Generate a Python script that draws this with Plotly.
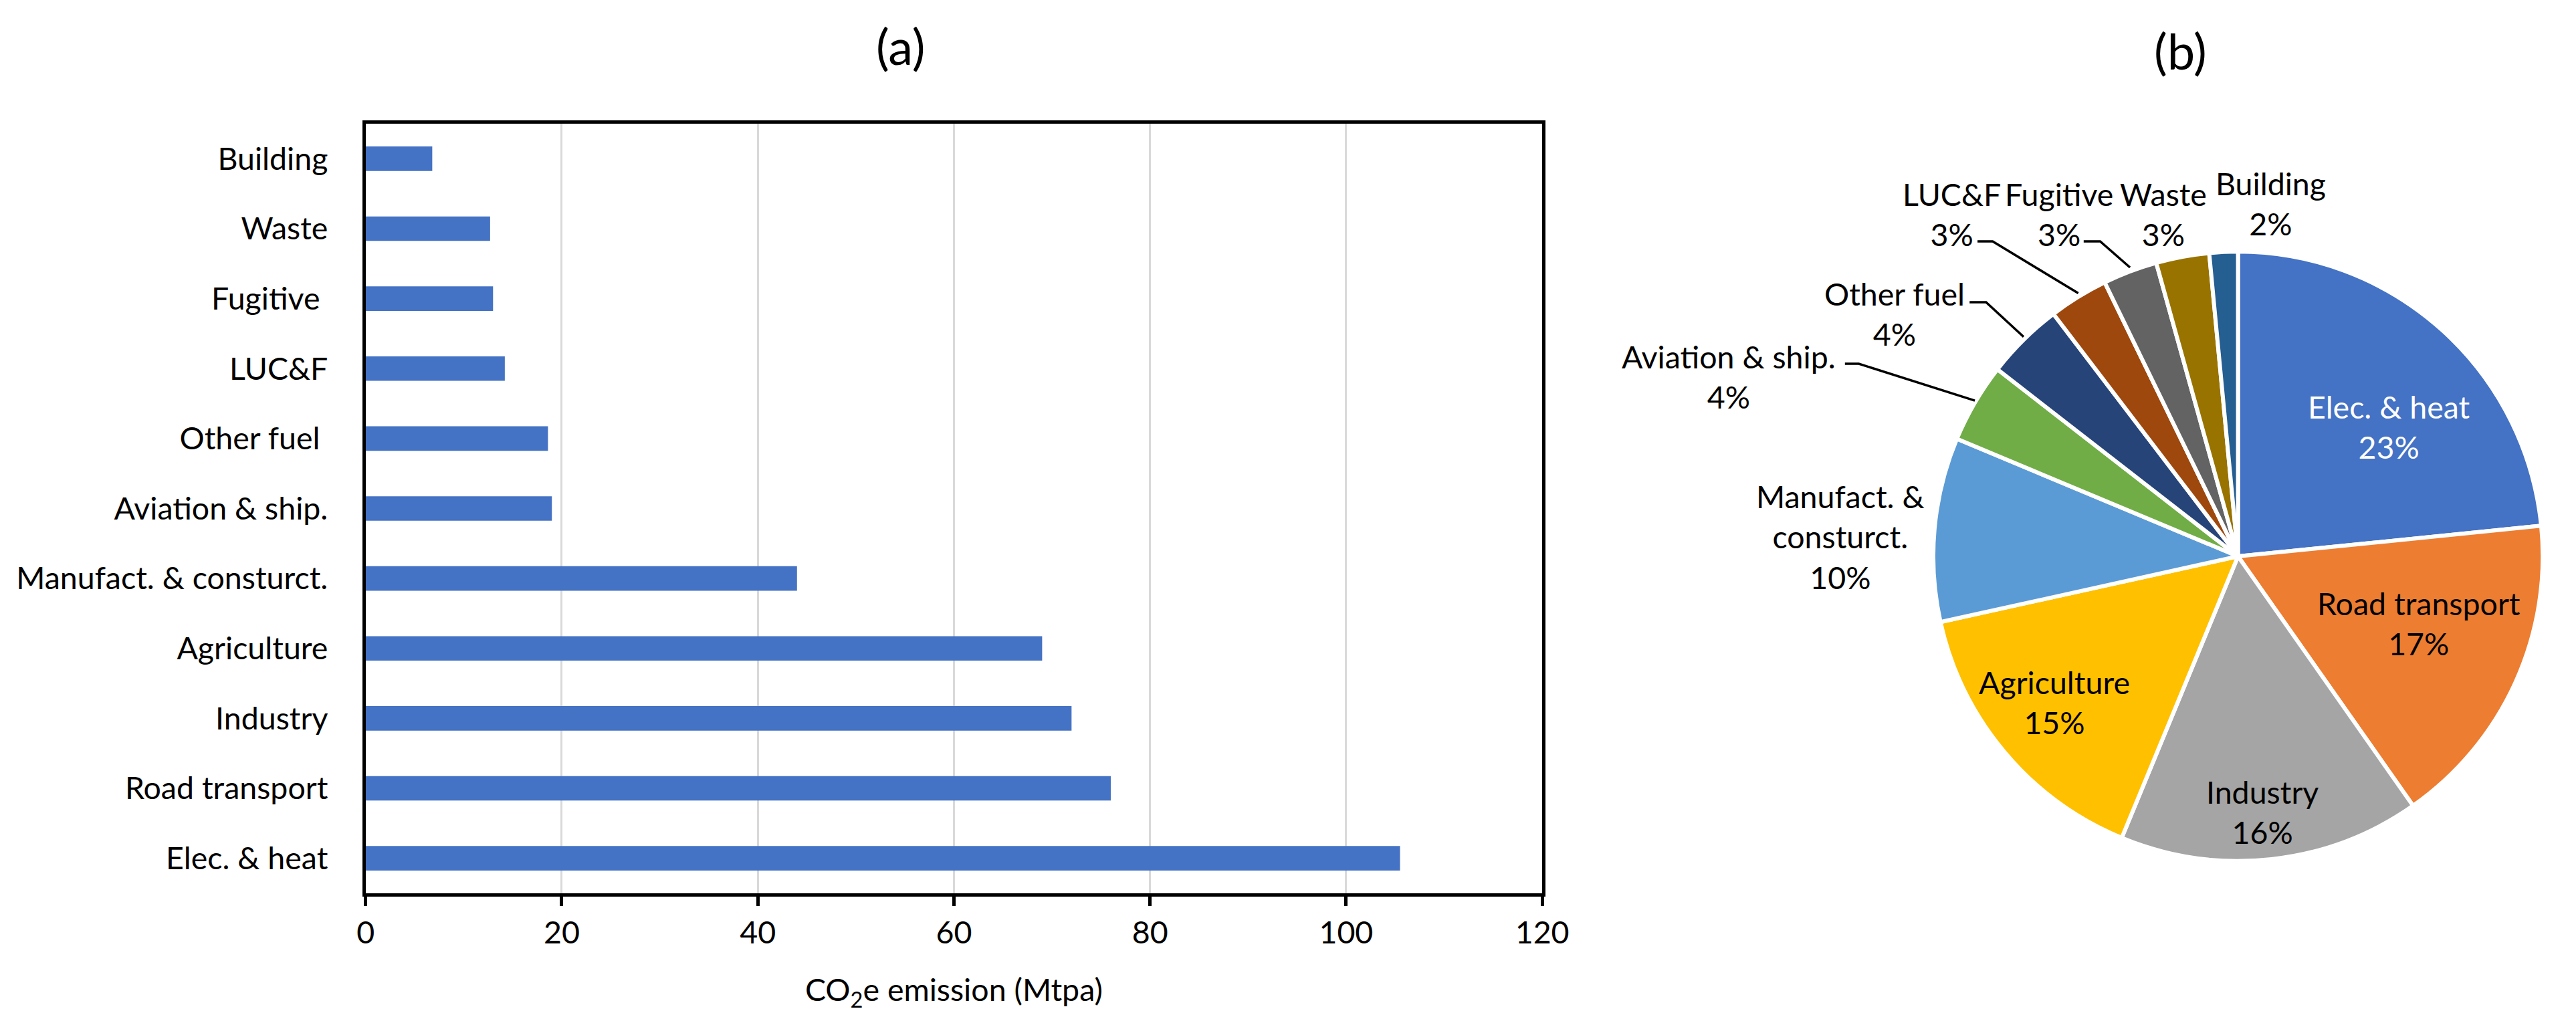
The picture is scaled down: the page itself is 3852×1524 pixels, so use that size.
import math
import plotly.graph_objects as go

# ---------------- data ----------------
categories = ["Elec. & heat", "Road transport", "Industry", "Agriculture",
              "Manufact. & consturct.", "Aviation & ship.", "Other fuel\u00a0",
              "LUC&F", "Fugitive\u00a0", "Waste", "Building"]
emissions = [105.5, 76, 72, 69, 44, 19, 18.6, 14.2, 13, 12.7, 6.8]
x_ticks = [0, 20, 40, 60, 80, 100, 120]

pie_labels = ["Elec. & heat", "Road transport", "Industry", "Agriculture",
              "Manufact. &<br>consturct.", "Aviation & ship.", "Other fuel",
              "LUC&F", "Fugitive", "Waste", "Building"]
pie_colors = ["#4472C4", "#ED7D31", "#A5A5A5", "#FFC000", "#5B9BD5", "#70AD47",
              "#264478", "#9E480E", "#636363", "#997300", "#255E91"]
label_colors = ["white", "black", "black", "black", "black", "black",
                "black", "black", "black", "black", "black"]

# ---------------- layout constants (pixels) ----------------
W, H = 3852, 1524
FONT = "Lato, 'Open Sans', sans-serif"
FS = 46.5
BAR_L, BAR_R, BAR_T, BAR_B = 533, 2317, 177, 1328
PIE_CX, PIE_CY, PIE_R = 3372, 824, 462

# label centres for the pie (pixel coordinates)
pie_label_pos = [(3601, 630), (3646, 924), (3409, 1206), (3094, 1042),
                 (2769, 795), (2600, 555), (2851, 461), (2938, 312),
                 (3101, 312), (3259, 312), (3422, 296)]
# leader lines: slice index -> (start point, elbow point) in pixels
leaders = {5: ((2776, 536), (2797, 536)),
           6: ((2965, 444), (2990, 444)),
           7: ((2977, 353), (3000, 353)),
           8: ((3138, 353), (3163, 353))}


def px(x):
    return x / W


def py(y):
    return 1 - y / H


total = sum(emissions)
percents = [round(v / total * 100) for v in emissions]

fig = go.Figure()

fig.add_trace(go.Bar(
    x=emissions, y=categories, orientation="h",
    marker=dict(color="#4472C4", line=dict(width=0)),
    width=0.35, xaxis="x", yaxis="y", showlegend=False,
))

fig.add_trace(go.Pie(
    values=emissions, labels=pie_labels, sort=False, direction="clockwise",
    rotation=0, textinfo="none", hoverinfo="label+percent",
    marker=dict(colors=pie_colors, line=dict(color="white", width=6)),
    domain=dict(x=[px(PIE_CX - PIE_R), px(PIE_CX + PIE_R)],
                y=[py(PIE_CY + PIE_R), py(PIE_CY - PIE_R)]),
    showlegend=False,
))

annotations = [
    dict(text="(a)", x=px(1345), y=py(60), xref="paper", yref="paper",
         showarrow=False, xanchor="center", yanchor="middle",
         font=dict(size=74, color="black", family=FONT)),
    dict(text="(b)", x=px(3285), y=py(67), xref="paper", yref="paper",
         showarrow=False, xanchor="center", yanchor="middle",
         font=dict(size=74, color="black", family=FONT)),
]
for i, lab in enumerate(pie_labels):
    lx, ly = pie_label_pos[i]
    annotations.append(dict(
        text=f"{lab}<br>{percents[i]}%", x=px(lx), y=py(ly),
        xref="paper", yref="paper", showarrow=False,
        xanchor="center", yanchor="middle", align="center",
        font=dict(size=FS, color=label_colors[i], family=FONT)))

shapes = []
cum = 0.0
for i, v in enumerate(emissions):
    mid = (cum + v / 2) / total * 2 * math.pi
    cum += v
    if i in leaders:
        (sx, sy), (ex, ey) = leaders[i]
        tx = PIE_CX + PIE_R * math.sin(mid)
        ty = PIE_CY - PIE_R * math.cos(mid)
        path = (f"M {px(sx)} {py(sy)} L {px(ex)} {py(ey)} "
                f"L {px(tx)} {py(ty)}")
        shapes.append(dict(type="path", xref="paper", yref="paper",
                           path=path, line=dict(color="black", width=3.5)))

fig.update_layout(
    width=W, height=H, margin=dict(l=0, r=0, t=0, b=0),
    paper_bgcolor="white", plot_bgcolor="white",
    font=dict(family=FONT, size=FS, color="black"),
    bargap=0.65,
    xaxis=dict(domain=[px(BAR_L), px(BAR_R)], range=[0, 120],
               tickvals=x_ticks, showgrid=True, gridcolor="#D9D9D9",
               gridwidth=3, zeroline=False, showline=True, linecolor="black",
               linewidth=5, mirror=True, ticks="outside", ticklen=14,
               tickwidth=5, tickcolor="black",
               tickfont=dict(size=FS, family=FONT, color="black"),
               title=dict(text="CO<sub>2</sub>e emission (Mtpa)",
                          font=dict(size=FS, family=FONT, color="black"),
                          standoff=46)),
    yaxis=dict(domain=[py(BAR_B), py(BAR_T)], showgrid=False,
               showline=True, linecolor="black", linewidth=5, mirror=True,
               ticks="", ticklabelstandoff=42, automargin=False,
               tickfont=dict(size=FS, family=FONT, color="black")),
    annotations=annotations, shapes=shapes,
)

fig.write_html("out.html")
